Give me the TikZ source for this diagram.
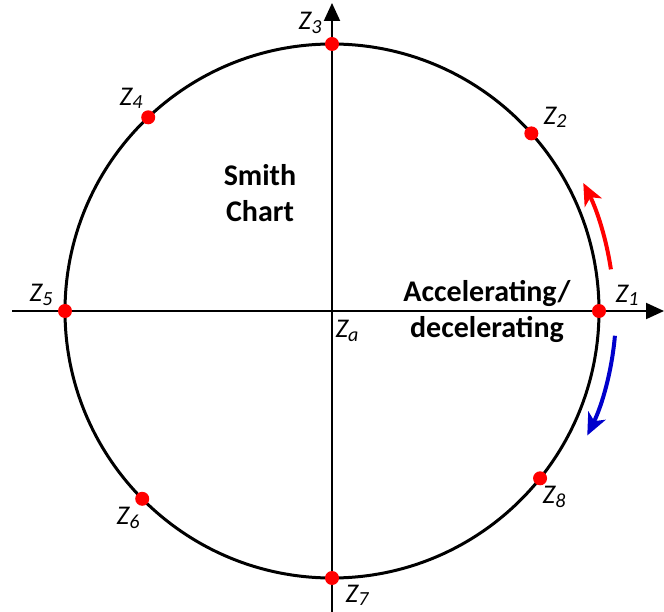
\documentclass[tikz,border=0pt]{standalone}
\usepackage{fontspec}
\setmainfont{Carlito}
\usetikzlibrary{positioning, calc, arrows.meta}
\definecolor{ptred}{RGB}{255,0,0}
\definecolor{decblue}{RGB}{0,0,204}
\newcommand{\zlab}[1]{\textit{Z\raisebox{-0.12em}{\fontsize{20}{20}\selectfont #1}}}
\tikzset{
  % Smith chart sketch
  chartcirc/.style = { line width=3pt, black },
  chartaxis/.style = { line width=2pt, -{Triangle[length=18pt, width=16pt]} },
  zpoint/.style    = { circle, fill=ptred, minimum size=14pt, inner sep=0 },
  zlabel/.style    = { font=\fontsize{27}{30}\selectfont, inner sep=1pt },
  boldtext/.style  = { font=\fontsize{30}{36}\selectfont\bfseries, align=center },
  accarrow/.style  = { line width=4pt, ptred, -{Stealth[length=22pt, width=19pt, inset=6pt]} },
  decarrow/.style  = { line width=4pt, decblue, -{Stealth[length=22pt, width=19pt, inset=6pt]} }
}

\begin{document}
\begin{tikzpicture}[x=1pt, y=-1pt]
  \useasboundingbox (0,0) rectangle (664,612);

  \coordinate (center) at (332,311);
  \coordinate (xstart) at (12,311);
  \coordinate (xend)   at (664,311);
  \coordinate (ystart) at (332,612);
  \coordinate (yend)   at (332,3);

  % axes and chart outline
  \draw[chartaxis] (xstart) -- (xend);
  \draw[chartaxis] (ystart) -- (yend);
  \draw[chartcirc] (center) circle[radius=267];

  % impedance points
  \node[zpoint] (z1) at ($(center)+(0:267 and -267)$) {};
  \node[zpoint] (z2) at ($(center)+(41.7:267 and -267)$) {};
  \node[zpoint] (z3) at ($(center)+(90:267 and -267)$) {};
  \node[zpoint] (z4) at ($(center)+(133.5:267 and -267)$) {};
  \node[zpoint] (z5) at ($(center)+(180:267 and -267)$) {};
  \node[zpoint] (z6) at ($(center)+(224.7:267 and -267)$) {};
  \node[zpoint] (z7) at ($(center)+(270:267 and -267)$) {};
  \node[zpoint] (z8) at ($(center)+(321.2:267 and -267)$) {};

  \node[zlabel] (lz1) at (627,295) {\zlab{1}};
  \node[zlabel] (lz2) at (555,117) {\zlab{2}};
  \node[zlabel] (lz3) at (310,23)  {\zlab{3}};
  \node[zlabel] (lz4) at (131,98)  {\zlab{4}};
  \node[zlabel] (lz5) at (41,295)  {\zlab{5}};
  \node[zlabel] (lz6) at (128,518) {\zlab{6}};
  \node[zlabel] (lz7) at (357,595) {\zlab{7}};
  \node[zlabel] (lz8) at (554,497) {\zlab{8}};
  \node[zlabel] (lza) at (347,331) {\zlab{a}};

  \node[boldtext] (chart) at (260,193) {Smith\\Chart};
  \node[boldtext] (accdec) at (487,311) {Accelerating/\\decelerating};

  % direction of movement
  \draw[accarrow] ($(center)+(8.5:282 and -282)$) arc[start angle=8.5, end angle=27, x radius=282, y radius=-282];
  \draw[decarrow] ($(center)+(-5:284 and -284)$) arc[start angle=-5, end angle=-26, x radius=284, y radius=-284];

\end{tikzpicture}
\end{document}
